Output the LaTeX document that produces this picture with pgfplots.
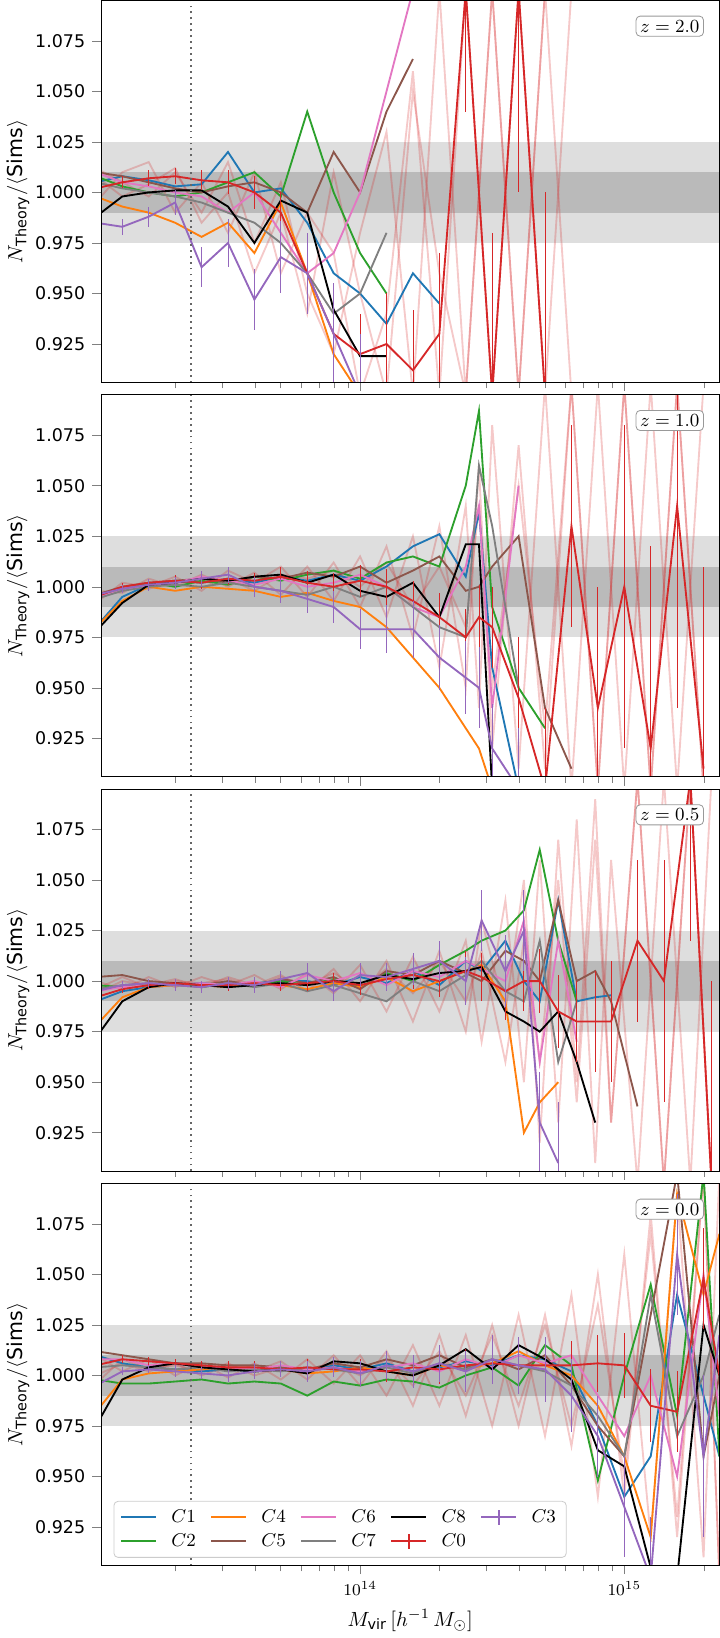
\documentclass[border=0pt]{standalone}
\usepackage{pgfplots}
\pgfplotsset{compat=1.18}
\usepgfplotslibrary{groupplots}
\usepackage{pgfplotstable}
\usepackage{fontspec}
\setmainfont{DejaVu Sans}
\definecolor{c1}{HTML}{1F77B4}\definecolor{c2}{HTML}{2CA02C}\definecolor{c4}{HTML}{FF7F0E}
\definecolor{c5}{HTML}{8C564B}\definecolor{c6}{HTML}{E377C2}\definecolor{c7}{HTML}{7F7F7F}
\definecolor{c0}{HTML}{D62728}\definecolor{c3}{HTML}{9467BD}
\pgfplotstableread{
lx c1 c2 c4 c5 c6 c7 c8 c0 e0 c3 e3 r1 r2 r3
13.0 1.005 1.008 0.998 1.010 1.010 1.005 0.988 1.002 .003 0.985 .004 1.012 0.995 1.008
13.1 1.008 1.003 0.993 1.008 1.005 1.002 0.998 1.005 .003 0.983 .004 1.005 1.010 0.998
13.2 1.006 1.000 0.990 1.005 1.003 1.000 1.000 1.007 .004 0.988 .005 0.998 1.015 1.004
13.3 1.003 0.998 0.985 1.002 1.000 0.998 1.001 1.008 .004 0.995 .006 1.010 0.990 1.012
13.4 1.004 1.000 0.978 1.000 0.998 0.995 1.001 1.006 .005 0.963 .010 0.990 1.005 0.985
13.5 1.020 1.005 0.985 1.003 0.990 0.990 0.993 1.005 .006 0.975 .012 1.015 0.980 1.000
13.6 1.000 1.010 0.970 1.005 1.000 0.985 0.975 1.000 .008 0.947 .015 0.975 1.010 0.960
13.7 1.002 0.998 0.995 1.000 0.980 0.975 0.996 0.990 .010 0.968 .018 1.005 0.960 0.990
13.8 0.985 1.040 0.960 0.990 0.960 0.960 0.990 0.960 .012 0.960 .020 0.950 0.990 0.940
13.9 0.960 1.000 0.920 1.020 0.970 0.940 0.942 0.930 .015 0.930 .025 0.920 0.970 1.010
14.0 0.950 0.970 0.900 1.000 1.000 0.950 0.919 0.920 .020 0.900 .030 0.980 0.900 0.950
14.1 0.935 0.950 nan 1.040 1.050 0.980 0.919 0.925 .025 nan nan 1.030 0.940 0.900
14.2 0.960 nan nan 1.066 1.100 nan nan 0.912 .030 nan nan 0.900 1.060 1.050
14.3 0.945 nan nan nan nan nan nan 0.930 .040 nan nan 1.100 0.900 0.960
14.4 nan nan nan nan nan nan nan 1.100 .060 nan nan 0.900 1.100 0.900
14.5 nan nan nan nan nan nan nan 0.900 .080 nan nan 1.100 0.900 1.100
14.6 nan nan nan nan nan nan nan 1.100 .100 nan nan 0.900 1.100 0.900
14.7 nan nan nan nan nan nan nan 0.900 .100 nan nan 1.100 0.900 1.100
14.8 nan nan nan nan nan nan nan nan nan nan nan 0.900 1.100 nan
}\pa
\pgfplotstableread{
lx c1 c2 c4 c5 c6 c7 c8 c0 e0 c3 e3 r1 r2 r3
13.0 0.980 0.995 0.980 0.996 0.995 0.994 0.978 0.995 .002 0.996 .002 0.992 0.998 0.995
13.1 0.995 0.998 0.993 1.000 0.998 0.998 0.992 1.000 .002 0.999 .002 1.002 0.997 1.000
13.2 1.001 1.002 1.000 1.002 1.001 1.000 1.001 1.002 .002 1.001 .003 1.000 1.004 0.999
13.3 1.003 1.000 0.998 1.003 1.002 1.001 1.002 1.003 .003 1.002 .003 1.005 1.000 1.003
13.4 1.002 1.003 1.000 1.004 1.005 1.000 1.004 1.002 .003 1.004 .004 0.998 1.006 1.002
13.5 1.004 1.001 0.999 1.002 1.003 1.002 1.003 1.004 .003 1.006 .004 1.008 1.000 1.004
13.6 1.002 1.005 0.998 1.005 1.001 1.000 1.005 1.003 .004 1.000 .005 1.002 1.007 0.998
13.7 1.005 1.003 0.995 1.004 1.004 0.998 1.006 1.005 .005 0.998 .006 1.010 0.996 1.006
13.8 1.003 1.006 0.997 1.007 1.000 0.996 1.002 1.002 .006 0.994 .007 0.995 1.010 1.004
13.9 1.006 1.008 0.993 1.005 1.002 1.000 1.006 1.000 .007 0.990 .008 1.012 0.993 1.008
14.0 1.003 1.004 0.990 1.010 1.006 0.995 0.998 1.003 .008 0.979 .010 0.990 1.015 1.000
14.1 1.010 1.012 0.980 1.002 1.000 1.000 0.995 1.000 .009 0.979 .012 1.020 0.985 1.012
14.2 1.020 1.015 0.965 1.008 0.990 0.990 1.002 0.993 .010 0.979 .014 0.975 1.025 0.990
14.3 1.026 1.010 0.950 1.015 0.985 0.980 0.985 0.985 .012 0.965 .016 1.030 0.960 1.010
14.4 1.005 1.050 0.930 0.998 1.010 0.975 1.021 0.975 .014 0.955 .018 0.950 1.040 0.980
14.45 1.037 1.087 0.920 1.000 1.040 1.060 1.021 0.985 .016 0.950 .020 1.060 0.940 1.040
14.5 0.960 0.990 0.900 1.010 0.940 1.030 0.900 0.980 .020 0.920 .022 0.920 1.080 0.950
14.6 0.900 0.950 nan 1.025 1.050 0.950 nan 0.945 .030 0.900 .030 1.070 0.910 1.050
14.7 nan 0.930 nan 0.940 nan nan nan 0.900 .040 nan nan 0.910 1.100 0.930
14.8 nan nan nan 0.910 nan nan nan 1.030 .050 nan nan 1.100 0.900 1.100
14.9 nan nan nan nan nan nan nan 0.940 .060 nan nan 0.900 1.100 0.900
15.0 nan nan nan nan nan nan nan 1.000 .080 nan nan 1.100 0.900 1.100
15.1 nan nan nan nan nan nan nan 0.920 .100 nan nan 0.900 1.100 0.900
15.2 nan nan nan nan nan nan nan 1.040 .100 nan nan 1.100 0.900 1.100
15.3 nan nan nan nan nan nan nan 0.910 .100 nan nan 0.900 1.100 0.900
}\pb
\pgfplotstableread{
lx c1 c2 c4 c5 c6 c7 c8 c0 e0 c3 e3 r1 r2 r3
13.0 0.990 0.998 0.978 1.002 0.995 0.996 0.972 0.992 .002 0.995 .002 0.994 1.000 0.996
13.1 0.995 0.997 0.992 1.003 0.997 0.998 0.990 0.996 .002 0.998 .002 1.000 0.996 1.002
13.2 0.997 0.998 0.997 1.000 0.998 0.999 0.997 0.998 .002 0.999 .002 0.998 1.002 0.997
13.3 0.998 0.999 0.998 0.999 0.998 0.998 0.999 0.999 .002 0.998 .003 1.001 0.997 1.000
13.4 0.999 0.997 0.998 0.998 0.999 0.997 0.998 0.998 .002 0.997 .003 0.997 1.002 0.999
13.5 0.998 0.999 0.997 1.000 0.998 0.999 0.997 0.998 .003 0.999 .003 1.002 0.998 1.001
13.6 0.999 0.998 0.999 0.998 1.000 0.997 0.998 0.999 .003 0.998 .004 0.998 1.003 0.997
13.7 1.000 1.000 0.998 1.001 0.997 0.999 0.999 0.998 .003 1.001 .004 1.003 0.996 1.002
13.8 1.000 0.998 0.996 0.999 1.003 0.995 0.998 0.999 .004 1.004 .005 0.995 1.004 0.998
13.9 0.998 1.001 0.999 1.002 1.000 0.998 1.000 1.000 .004 0.995 .005 1.006 0.994 1.004
14.0 1.002 0.997 0.997 0.996 1.004 0.994 0.999 0.998 .005 1.003 .006 0.990 1.008 0.996
14.1 0.999 1.004 1.002 1.005 0.998 0.990 1.003 1.001 .006 1.002 .007 1.010 0.985 1.006
14.2 1.005 1.000 0.995 1.003 1.005 1.000 1.001 1.003 .007 1.006 .008 0.980 1.012 0.994
14.3 0.998 1.008 1.000 1.010 1.002 0.995 1.004 1.000 .008 1.010 .010 1.015 0.985 1.010
14.4 1.010 1.015 1.005 1.004 1.010 1.003 1.005 1.005 .010 1.000 .012 0.975 1.020 0.990
14.46 1.005 1.020 1.008 1.000 1.006 1.010 1.007 1.002 .012 1.030 .015 1.030 0.970 1.015
14.55 1.020 1.025 0.990 1.015 1.000 0.995 0.985 0.995 .014 1.005 .018 0.985 1.040 0.960
14.62 1.000 1.035 0.925 1.010 1.030 0.990 0.980 1.000 .015 1.025 .020 1.050 0.950 1.020
14.68 0.990 1.065 0.940 1.000 0.960 1.020 0.975 1.000 .016 0.930 .025 0.920 1.060 0.960
14.75 1.040 1.020 0.950 1.040 1.020 0.960 0.985 0.985 .018 0.910 .030 1.070 0.930 1.050
14.82 0.990 0.990 nan 1.000 0.970 0.990 0.960 0.980 .020 nan nan 0.950 1.080 0.940
14.89 0.992 nan nan 1.005 nan nan 0.930 0.980 .025 nan nan 1.090 0.910 1.070
14.95 0.993 nan nan 0.990 nan nan nan 0.980 .030 nan nan 0.930 1.060 0.930
15.05 nan nan nan 0.938 nan nan nan 1.020 .040 nan nan 1.100 0.900 1.100
15.15 nan nan nan nan nan nan nan 1.000 .060 nan nan 0.900 1.100 0.900
15.25 nan nan nan nan nan nan nan 1.100 .080 nan nan 1.100 0.900 1.100
15.33 nan nan nan nan nan nan nan 0.900 .100 nan nan 0.900 1.100 0.900
}\pc
\pgfplotstableread{
lx c1 c2 c4 c5 c6 c7 c8 c0 e0 c3 e3 r1 r2 r3
13.0 1.010 0.998 0.982 1.012 1.008 1.004 0.975 1.005 .002 0.995 .002 1.000 1.010 0.996
13.1 1.006 0.996 0.998 1.010 1.008 1.005 0.998 1.008 .002 1.002 .002 1.006 1.002 1.008
13.2 1.004 0.996 1.001 1.008 1.005 1.004 1.004 1.007 .002 1.003 .002 1.002 1.008 1.003
13.3 1.003 0.997 1.002 1.006 1.006 1.003 1.006 1.006 .002 1.002 .003 1.006 1.000 1.005
13.4 1.002 0.998 1.003 1.006 1.004 1.004 1.004 1.005 .002 1.001 .003 1.000 1.006 1.002
13.5 1.003 0.996 1.004 1.005 1.004 1.002 1.003 1.004 .003 1.000 .003 1.005 0.999 1.006
13.6 1.002 0.997 1.002 1.005 1.003 1.003 1.002 1.004 .003 1.002 .004 1.002 1.006 1.000
13.7 1.003 0.996 1.003 1.004 1.005 1.002 1.003 1.003 .003 1.003 .004 1.007 0.998 1.004
13.8 1.002 0.990 1.001 1.003 1.003 1.004 1.001 1.004 .004 1.002 .005 0.998 1.008 1.003
13.9 1.005 0.997 1.002 1.006 1.004 1.003 1.007 1.003 .004 1.004 .005 1.010 0.996 1.006
14.0 1.003 0.995 1.004 1.004 1.002 1.001 1.006 1.003 .005 1.001 .006 0.995 1.010 1.000
14.1 1.006 0.998 1.002 1.008 1.004 1.004 1.002 1.002 .005 1.005 .007 1.012 0.990 1.008
14.2 1.002 0.997 1.000 1.005 1.006 1.001 1.000 1.004 .006 1.002 .008 0.985 1.015 0.995
14.3 1.004 0.994 1.005 1.010 1.002 1.006 1.005 1.003 .007 1.006 .009 1.020 0.985 1.012
14.4 1.007 1.000 1.003 1.004 1.008 1.003 1.013 1.005 .008 1.002 .010 0.980 1.020 0.990
14.5 1.005 1.004 1.006 1.008 1.004 1.008 1.003 1.006 .009 1.008 .012 1.025 0.975 1.020
14.6 1.010 0.995 1.012 1.003 1.010 1.005 1.015 1.005 .010 1.005 .014 0.975 1.030 0.985
14.7 1.008 1.015 1.005 1.010 1.006 1.002 1.008 1.005 .011 1.003 .016 1.030 0.970 1.025
14.8 1.002 1.005 1.000 0.995 1.010 0.995 0.998 1.005 .012 0.990 .018 0.965 1.040 0.975
14.9 0.975 0.948 0.985 0.975 0.990 0.980 0.963 1.006 .014 0.970 .020 1.050 0.940 1.035
15.0 0.940 1.000 0.960 0.960 0.970 0.960 0.955 1.005 .016 0.935 .025 0.940 1.060 0.950
15.1 0.960 1.045 0.920 1.030 1.000 1.040 0.905 0.985 .018 0.900 .030 1.080 0.920 1.070
15.2 1.040 0.980 1.090 1.100 0.950 0.970 0.900 0.982 .020 1.060 .030 0.920 1.090 0.930
15.3 0.990 1.100 1.040 0.960 1.050 1.000 1.025 1.048 .025 0.960 .040 1.100 0.910 1.100
15.36 0.960 0.960 1.070 1.000 0.980 1.030 1.000 1.000 .030 1.020 .040 0.900 1.100 0.900
}\pd
\pgfplotsset{ebleg/.style={legend image code/.code={\draw[##1](0cm,0cm)--(0.6cm,0cm);\draw[##1](0.3cm,-0.13cm)--(0.3cm,0.13cm);}}}
\newcommand\panel[2]{%
  \fill[black!13] (axis cs:12.9,0.975) rectangle (axis cs:15.5,1.025);
  \fill[black!27] (axis cs:12.9,0.99) rectangle (axis cs:15.5,1.01);
  \addplot[c0,opacity=0.25,forget plot] table[x=lx,y=r1]{#1};
  \addplot[c0,opacity=0.25,forget plot] table[x=lx,y=r2]{#1};
  \addplot[c0,opacity=0.25,forget plot] table[x=lx,y=r3]{#1};
  \addplot[c1] table[x=lx,y=c1]{#1};
  \addplot[c2] table[x=lx,y=c2]{#1};
  \addplot[c4] table[x=lx,y=c4]{#1};
  \addplot[c5] table[x=lx,y=c5]{#1};
  \addplot[c6] table[x=lx,y=c6]{#1};
  \addplot[c7] table[x=lx,y=c7]{#1};
  \addplot[black] table[x=lx,y=c8]{#1};
  \addplot[c0,ebleg,error bars/.cd,y dir=both,y explicit,error mark=none] table[x=lx,y=c0,y error=e0]{#1};
  \addplot[c3,ebleg,error bars/.cd,y dir=both,y explicit,error mark=none] table[x=lx,y=c3,y error=e3]{#1};
  \addplot[black!60,dotted,thick,forget plot] coordinates {(13.36,0.9)(13.36,1.1)};
  \node[draw=black!40,rounded corners=2pt,fill=white,anchor=north east,inner sep=2pt,font=\fontsize{9}{11}\selectfont] at (rel axis cs:0.975,0.96) {$z=#2$};
}
\begin{document}
\begin{tikzpicture}
\begin{groupplot}[group style={group size=1 by 4, vertical sep=6pt, xticklabels at=edge bottom},
  width=301pt, height=186pt, scale only axis,
  xmin=13.02, xmax=15.36, ymin=0.906, ymax=1.095,
  xtick={14,15}, xticklabels={$10^{14}$,$10^{15}$},
  minor xtick={13.301,13.477,13.602,13.699,13.778,13.845,13.903,13.954,14.301,14.477,14.602,14.699,14.778,14.845,14.903,14.954,15.301},
  ytick={0.925,0.95,0.975,1.0,1.025,1.05,1.075},
  yticklabel style={/pgf/number format/.cd,fixed,fixed zerofill,precision=3,assume math mode=true},
  tick align=outside, tick pos=left, no markers,
  ylabel={$N_{\mathrm{Theory}}/\langle\mathrm{Sims}\rangle$},
  ylabel style={yshift=-4pt},
  tick label style={font=\fontsize{8.5}{10}\selectfont},
  label style={font=\fontsize{10}{12}\selectfont},
  axis on top,
  transpose legend, legend columns=2,
  legend style={at={(0.02,0.02)},anchor=south west,draw=black!20,rounded corners=2pt,font=\fontsize{9}{11}\selectfont,column sep=5pt},
  every axis plot/.append style={line width=0.9pt},
]
\nextgroupplot \panel{\pa}{2.0}
\nextgroupplot \panel{\pb}{1.0}
\nextgroupplot \panel{\pc}{0.5}
\nextgroupplot[xlabel={$M_{\mathrm{vir}}\,[h^{-1}\,M_\odot]$}]
\panel{\pd}{0.0}
\legend{$C1$,$C2$,$C4$,$C5$,$C6$,$C7$,$C8$,$C0$,$C3$}
\end{groupplot}
\end{tikzpicture}
\end{document}
